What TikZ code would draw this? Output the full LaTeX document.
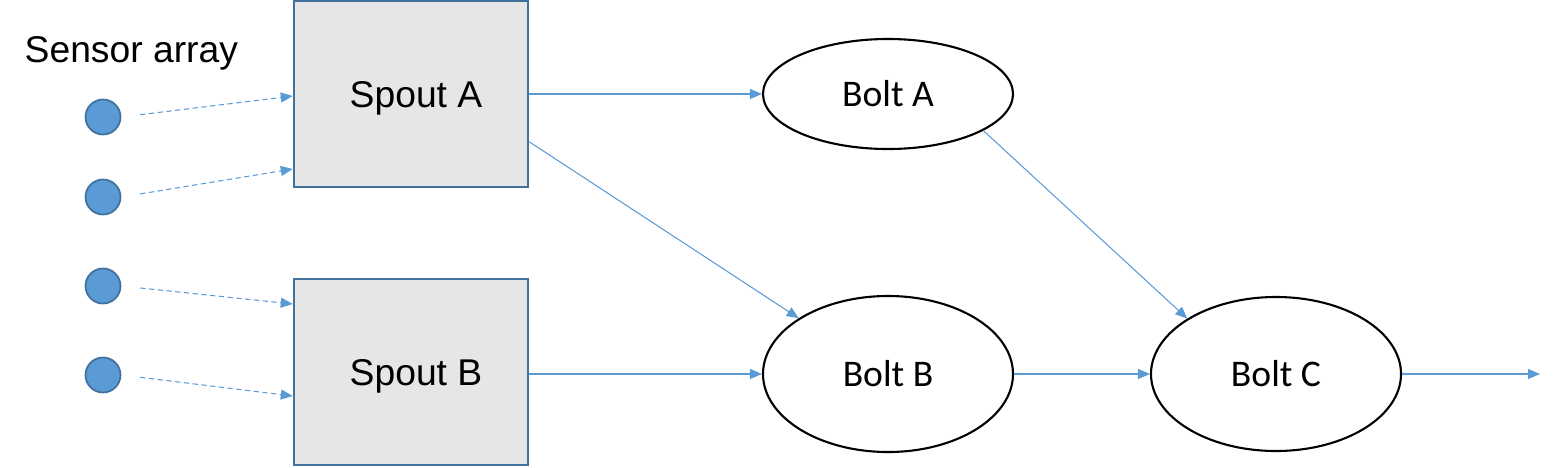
\documentclass[tikz,border=0pt]{standalone}
\usepackage{fontspec}
\setmainfont{Liberation Sans}
\newfontfamily\boltfont{Carlito}
\usetikzlibrary{shapes.geometric,arrows.meta,calc}

\definecolor{flowblue}{HTML}{5B9BD5}
\definecolor{edgeblue}{HTML}{41719C}
\definecolor{spoutgray}{HTML}{E6E6E6}

\tikzset{
  sensor/.style={circle, fill=flowblue, draw=edgeblue, line width=0.5pt, minimum size=0.35cm, inner sep=0pt},
  spout/.style={rectangle, fill=spoutgray, draw=edgeblue, line width=0.7pt, minimum width=2.34cm, minimum height=1.86cm, inner sep=0pt, text depth=0pt, font=\fontsize{10.6}{12}\selectfont},
  bolt/.style={ellipse, draw=black, line width=0.6pt, minimum width=2.5cm, inner sep=0pt, font=\boltfont\fontsize{10.7}{12}\selectfont},
  flow/.style={draw=flowblue, line width=0.3pt, -{Triangle[length=0.12cm,width=0.1cm]}},
  feed/.style={flow, dash pattern=on 1.5pt off 1pt, shorten <=0.19cm}
}

\begin{document}
\begin{tikzpicture}
            \useasboundingbox (0,0) rectangle (15.59,4.67);

            % Sensor array
            \node[anchor=base west, inner sep=0pt, font=\fontsize{10.6}{12}\selectfont] (label) at (0.24,4.05) {Sensor array};
            \foreach \i/\y in {1/3.50,2/2.70,3/1.81,4/0.92} {
              \node[sensor] (s\i) at (1.03,\y) {};
            }

            % Spouts
            \node[spout] (spoutA) at (4.11,3.73) {\hspace*{0.1cm}Spout A};
            \node[spout] (spoutB) at (4.11,0.95) {\hspace*{0.1cm}Spout B};

            % Bolts
            \node[bolt, minimum height=1.1cm] (boltA) at (8.88,3.73) {Bolt A};
            \node[bolt, minimum height=1.56cm] (boltB) at (8.88,0.93) {Bolt B};
            \node[bolt, minimum height=1.54cm] (boltC) at (12.76,0.93) {Bolt C};
            \coordinate (out) at (15.40,0.93);

            % Sensor feeds
            \draw[feed] (s1.east) -- ($(spoutA.west)+(0,-0.02)$);
            \draw[feed] (s2.east) -- ($(spoutA.west)+(0,-0.75)$);
            \draw[feed] (s3.east) -- ($(spoutB.west)+(0,0.68)$);
            \draw[feed] (s4.east) -- ($(spoutB.west)+(0,-0.24)$);

            % Stream connections
            \draw[flow] (spoutA.east |- boltA.west) -- (boltA.west);
            \draw[flow] (spoutA.-22.3) -- (boltB.148);
            \draw[flow] (boltA.-21) -- (boltC.148);
            \draw[flow] (spoutB.east |- boltB.west) -- (boltB.west);
            \draw[flow] (boltB.east) -- (boltC.west);
            \draw[flow] (boltC.east) -- (out);
\end{tikzpicture}
\end{document}
